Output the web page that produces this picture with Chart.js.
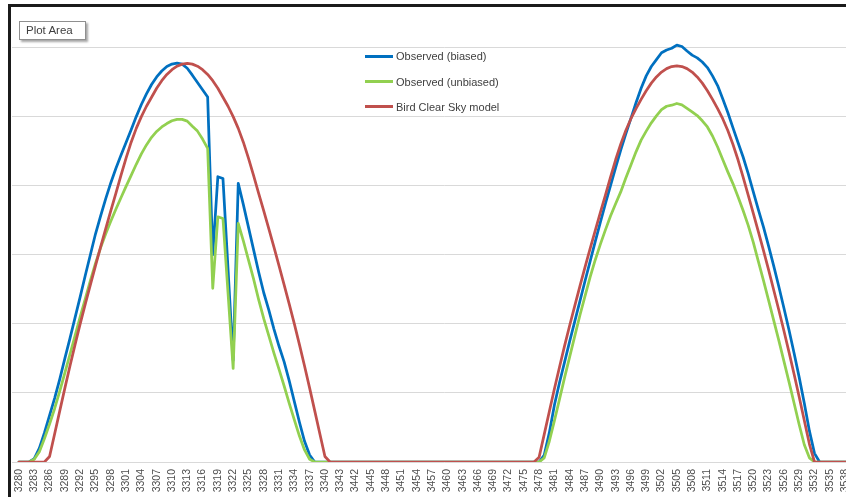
<!DOCTYPE html>
<html>
<head>
<meta charset="utf-8">
<script src="https://cdn.jsdelivr.net/npm/chart.js@4.4.0/dist/chart.umd.min.js"></script>
<style>
    html, body { margin: 0; padding: 0; background: #fff; width: 846px; height: 497px; overflow: hidden; }
    #wrap { position: absolute; left: 0; top: 0; width: 880px; height: 497px; }
    #frame { position: absolute; left: 8px; top: 4px; width: 900px; height: 600px;
             border-left: 3px solid #1b1b1b; border-top: 3px solid #1b1b1b; pointer-events: none; }
    #tip { position: absolute; left: 19px; top: 21px; width: 59px; height: 17px; background: #fff;
           border: 1px solid #8f8f8f; box-shadow: 2px 2px 2px rgba(0,0,0,0.35);
           font: 11.5px "Liberation Sans", Arial, sans-serif; color: #404040; line-height: 17px; padding-left: 6px; box-sizing: content-box; }
    .legend-row { position: absolute; left: 365px; height: 16px; display: flex; align-items: center;
                  font: 11px "Liberation Sans", Arial, sans-serif; color: #404040; white-space: nowrap; }
    .legend-line { width: 28px; height: 3px; margin-right: 3px; }
</style>
</head>
<body>
<div id="wrap"><canvas id="chart" width="880" height="497"></canvas></div>
<div id="frame"></div>
<div id="tip">Plot Area</div>
<div id="legend"></div>
<script>
// categories (time step numbers), night hours are left out
const categories = [
    3280, 3281, 3282, 3283, 3284, 3285, 3286, 3287, 3288, 3289,
    3290, 3291, 3292, 3293, 3294, 3295, 3296, 3297, 3298, 3299,
    3300, 3301, 3302, 3303, 3304, 3305, 3306, 3307, 3308, 3309,
    3310, 3311, 3312, 3313, 3314, 3315, 3316, 3317, 3318, 3319,
    3320, 3321, 3322, 3323, 3324, 3325, 3326, 3327, 3328, 3329,
    3330, 3331, 3332, 3333, 3334, 3335, 3336, 3337, 3338, 3339,
    3340, 3341, 3342, 3343, 3344,
    3441, 3442, 3443, 3444, 3445, 3446, 3447, 3448, 3449, 3450,
    3451, 3452, 3453, 3454, 3455, 3456, 3457, 3458, 3459, 3460,
    3461, 3462, 3463, 3464, 3465, 3466, 3467, 3468, 3469, 3470,
    3471, 3472, 3473, 3474, 3475, 3476, 3477, 3478, 3479, 3480,
    3481, 3482, 3483, 3484, 3485, 3486, 3487, 3488, 3489, 3490,
    3491, 3492, 3493, 3494, 3495, 3496, 3497, 3498, 3499, 3500,
    3501, 3502, 3503, 3504, 3505, 3506, 3507, 3508, 3509, 3510,
    3511, 3512, 3513, 3514, 3515, 3516, 3517, 3518, 3519, 3520,
    3521, 3522, 3523, 3524, 3525, 3526, 3527, 3528, 3529, 3530,
    3531, 3532, 3533, 3534, 3535, 3536, 3537, 3538, 3539, 3540,
    3541
];

const observedBiased = [
    0, 0, 0, 10, 40, 85, 135, 185, 240, 300,
    358, 418, 478, 540, 600, 660, 712, 762, 808, 850,
    888, 925, 962, 1000, 1035, 1066, 1093, 1115, 1132, 1145,
    1152, 1155, 1152, 1140, 1120, 1099, 1078, 1057, 600, 826,
    821, 558, 295, 807, 745, 680, 615, 550, 490, 440,
    385, 335, 290, 235, 175, 115, 60, 20, 0, 0,
    0, 0, 0, 0, 0, 0, 0, 0, 0, 0,
    0, 0, 0, 0, 0, 0, 0, 0, 0, 0,
    0, 0, 0, 0, 0, 0, 0, 0, 0, 0,
    0, 0, 0, 0, 0, 0, 0, 0, 0, 0,
    0, 0, 0, 20, 85, 165, 230, 290, 350, 408,
    466, 524, 581, 638, 694, 748, 800, 852, 903, 950,
    995, 1040, 1082, 1118, 1145, 1165, 1185, 1193, 1198, 1207,
    1203, 1190, 1178, 1170, 1158, 1142, 1118, 1090, 1052, 1012,
    968, 925, 883, 835, 782, 730, 680, 625, 568, 508,
    446, 382, 315, 245, 170, 90, 25, 0, 0, 0,
    0, 0, 0, 0, 0, 0
];

const observedUnbiased = [
    0, 0, 0, 8, 30, 68, 110, 155, 205, 258,
    312, 366, 420, 472, 525, 575, 620, 660, 697, 732,
    765, 798, 830, 862, 892, 918, 940, 957, 970, 980,
    988, 992, 992, 987, 972, 958, 935, 908, 503, 710,
    705, 488, 271, 691, 640, 585, 530, 470, 415, 365,
    315, 268, 220, 170, 122, 75, 35, 8, 0, 0,
    0, 0, 0, 0, 0, 0, 0, 0, 0, 0,
    0, 0, 0, 0, 0, 0, 0, 0, 0, 0,
    0, 0, 0, 0, 0, 0, 0, 0, 0, 0,
    0, 0, 0, 0, 0, 0, 0, 0, 0, 0,
    0, 0, 0, 12, 60, 120, 182, 245, 305, 365,
    425, 480, 535, 585, 630, 672, 712, 748, 782, 822,
    860, 898, 932, 958, 982, 1002, 1020, 1030, 1033, 1038,
    1034, 1024, 1014, 1003, 988, 970, 944, 912, 876, 840,
    806, 768, 728, 685, 636, 580, 525, 468, 410, 352,
    292, 232, 170, 108, 50, 12, 0, 0, 0, 0,
    0, 0, 0, 0, 0, 0
];

const birdModel = [
    0, 0, 0, 0, 0, 0, 16, 82, 148, 214,
    278, 340, 400, 457, 513, 568, 622, 675, 727, 778,
    830, 880, 926, 966, 1000, 1030, 1056, 1082, 1104, 1122,
    1136, 1146, 1152, 1154, 1152, 1146, 1136, 1122, 1104, 1082,
    1056, 1030, 1000, 966, 926, 880, 830, 778, 727, 675,
    622, 568, 513, 457, 400, 340, 278, 214, 148, 82,
    16, 0, 0, 0, 0, 0, 0, 0, 0, 0,
    0, 0, 0, 0, 0, 0, 0, 0, 0, 0,
    0, 0, 0, 0, 0, 0, 0, 0, 0, 0,
    0, 0, 0, 0, 0, 0, 0, 0, 0, 0,
    0, 0, 14, 80, 146, 212, 275, 337, 396, 453,
    509, 564, 618, 670, 722, 773, 825, 875, 920, 960,
    994, 1023, 1050, 1075, 1097, 1115, 1129, 1139, 1145, 1147,
    1145, 1139, 1129, 1115, 1097, 1075, 1050, 1023, 994, 960,
    920, 875, 825, 773, 720, 666, 612, 556, 498, 440,
    380, 318, 254, 188, 120, 52, 0, 0, 0, 0,
    0, 0, 0, 0, 0, 0
];

const seriesNames = ['Observed (biased)', 'Observed (unbiased)', 'Bird Clear Sky model'];
const seriesColors = ['#0070C0', '#92D050', '#C0504D'];

// every third category gets a label
const labelStep = 3;
const topGridValue = 1200;

function toPoints(values) {
    return values.map((v, i) => ({ x: i, y: v }));
}

document.addEventListener('DOMContentLoaded', () => {
    Chart.defaults.font.family = '"Liberation Sans", Arial, sans-serif';

    const ctx = document.getElementById('chart').getContext('2d');
    const allSeries = [observedBiased, observedUnbiased, birdModel];

    const chart = new Chart(ctx, {
        type: 'line',
        data: {
            datasets: allSeries.map((values, k) => ({
                label: seriesNames[k],
                data: toPoints(values),
                borderColor: seriesColors[k],
                backgroundColor: seriesColors[k],
                order: 3 - k
            }))
        },
        options: {
            responsive: false,
            animation: false,
            layout: { padding: { left: 12, top: 13, right: 0, bottom: 0 } },
            plugins: { legend: { display: false }, tooltip: { enabled: false } },
            elements: {
                point: { radius: 0 },
                line: { borderWidth: 2.75, tension: 0, borderJoinStyle: 'round', borderCapStyle: 'round', fill: false }
            },
            scales: {
                x: {
                    type: 'linear',
                    min: -1.367,
                    max: 168.16,
                    bounds: 'data',
                    grid: { display: false, drawTicks: false },
                    border: { display: false },
                    afterBuildTicks: (scale) => {
                        scale.ticks = categories
                            .map((c, i) => ({ value: i }))
                            .filter(t => t.value % labelStep === 0);
                    },
                    afterFit: (scale) => { scale.height = 35; },
                    ticks: {
                        autoSkip: false,
                        minRotation: 90,
                        maxRotation: 90,
                        padding: 7,
                        color: '#4d4d4d',
                        font: { size: 10.5 },
                        callback: (v) => categories[v]
                    }
                },
                y: {
                    min: 0,
                    max: 1300,
                    bounds: 'data',
                    grid: {
                        color: (c) => (c.tick && c.tick.value <= topGridValue) ? '#d9d9d9' : 'rgba(0,0,0,0)',
                        drawTicks: false,
                        lineWidth: 1
                    },
                    border: { display: false },
                    ticks: { display: false, stepSize: 200, includeBounds: false },
                    afterFit: (scale) => { scale.width = 0; }
                }
            }
        }
    });

    // legend, built from the datasets
    const legend = document.getElementById('legend');
    const rowCenters = [56, 81.5, 106.5];
    chart.data.datasets.forEach((ds, k) => {
        const row = document.createElement('div');
        row.className = 'legend-row';
        row.style.top = (rowCenters[k] - 8) + 'px';
        row.innerHTML = `<span class="legend-line" style="background:${ds.borderColor}"></span><span>${ds.label}</span>`;
        legend.appendChild(row);
    });
});
</script>
</body>
</html>
